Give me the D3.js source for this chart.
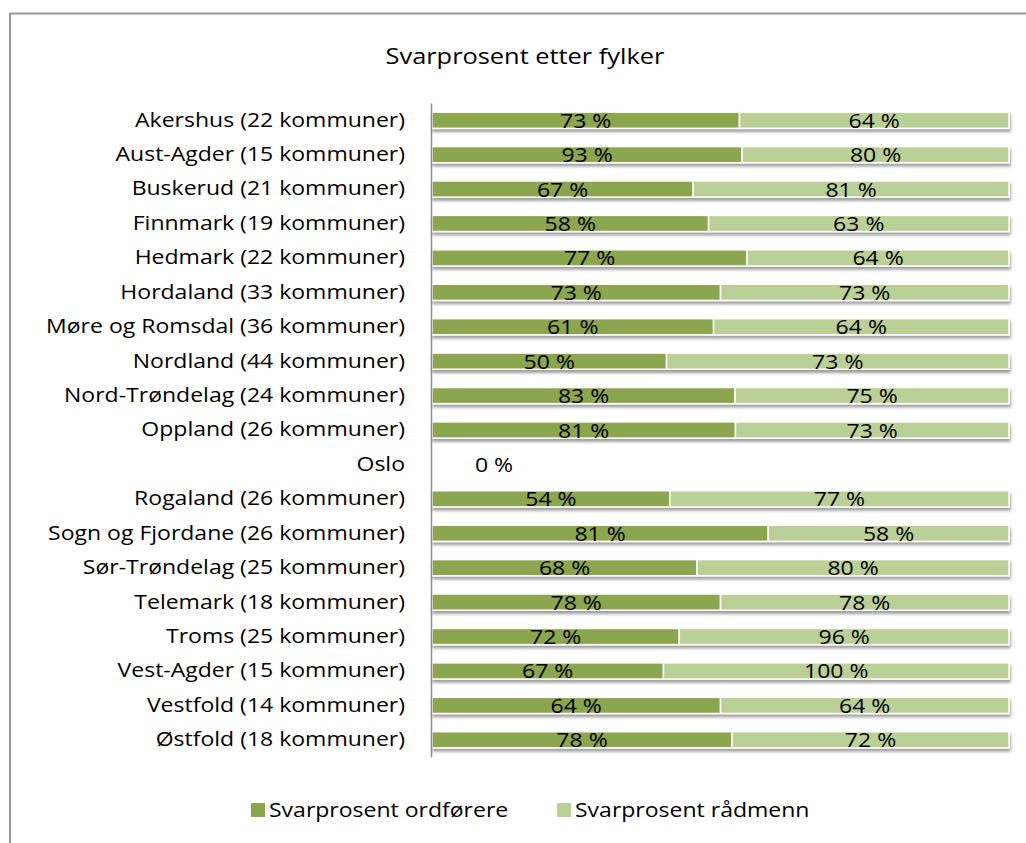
<!DOCTYPE html>
<html><head><meta charset="utf-8">
<script src="https://cdn.jsdelivr.net/npm/d3@7"></script>
<style>body{margin:0;background:#fff;} svg{display:block;}</style>
</head><body>
<script>
const categories = ["Akershus (22 kommuner)","Aust-Agder (15 kommuner)","Buskerud (21 kommuner)","Finnmark (19 kommuner)","Hedmark (22 kommuner)","Hordaland (33 kommuner)","Møre og Romsdal (36 kommuner)","Nordland (44 kommuner)","Nord-Trøndelag (24 kommuner)","Oppland (26 kommuner)","Oslo","Rogaland (26 kommuner)","Sogn og Fjordane (26 kommuner)","Sør-Trøndelag (25 kommuner)","Telemark (18 kommuner)","Troms (25 kommuner)","Vest-Agder (15 kommuner)","Vestfold (14 kommuner)","Østfold (18 kommuner)"];
const ordforere = [73,93,67,58,77,73,61,50,83,81,0,54,81,68,78,72,67,64,78];
const radmenn = [64,80,81,63,64,73,64,73,75,73,0,77,58,80,78,96,100,64,72];
const seriesNames = ["Svarprosent ordførere","Svarprosent rådmenn"];
const colors = ["#8ca64f","#bbd097"];

const W=1026,H=843;
const svg=d3.select("body").append("svg").attr("width",W).attr("height",H);
const font="'Open Sans', sans-serif";
const FS=20, STRETCH=1.15;
function stretch(sel,k){sel.each(function(){const l=this.getComputedTextLength();if(l>0){d3.select(this).attr("textLength",l*k).attr("lengthAdjust","spacingAndGlyphs");}});}

const defs=svg.append("defs");
const f=defs.append("filter").attr("id","sh").attr("x","-5%").attr("y","-50%").attr("width","110%").attr("height","250%");
f.append("feDropShadow").attr("dx",1).attr("dy",3).attr("stdDeviation",1.8).attr("flood-color","#000").attr("flood-opacity",0.38);

// frame
svg.append("rect").attr("x",10).attr("y",13.5).attr("width",1040).attr("height",900).attr("fill","none").attr("stroke","#999").attr("stroke-width",2);

const title=svg.append("text").attr("x",525).attr("y",64).attr("text-anchor","middle").attr("font-family",font).attr("font-size",21.5).attr("fill","#000").text("Svarprosent etter fylker");
stretch(title,1.18);

const x=d3.scaleLinear().domain([0,1]).range([432,1009]);
const y=d3.scaleBand().domain(categories).range([103,757]).paddingInner(0.53).paddingOuter(0.265);

const data=categories.map((c,i)=>{const t=ordforere[i]+radmenn[i];return {c,a:ordforere[i],b:radmenn[i],pa:t?ordforere[i]/t:0,pb:t?radmenn[i]/t:0};});

const g=svg.append("g");
data.forEach(d=>{
  if(d.a+d.b===0) return;
  const grp=g.append("g").attr("filter","url(#sh)");
  grp.append("rect").attr("x",x(0)).attr("y",y(d.c)).attr("width",x(d.pa)-x(0)).attr("height",y.bandwidth()).attr("fill",colors[0]).attr("stroke","#fff").attr("stroke-width",1.5);
  grp.append("rect").attr("x",x(d.pa)).attr("y",y(d.c)).attr("width",x(1)-x(d.pa)).attr("height",y.bandwidth()).attr("fill",colors[1]).attr("stroke","#fff").attr("stroke-width",1.5);
});
// labels
const lab=svg.append("g").attr("font-family",font).attr("font-size",FS).attr("text-anchor","middle");
data.forEach(d=>{
  const cy=y(d.c)+y.bandwidth()/2+7.5;
  if(d.a+d.b===0){
    lab.append("text").attr("x",494).attr("y",cy).text(d.a+" %");
    return;
  }
  lab.append("text").attr("x",(x(0)+x(d.pa))/2).attr("y",cy).text(d.a+" %");
  lab.append("text").attr("x",(x(d.pa)+x(1))/2).attr("y",cy).text(d.b+" %");
});
stretch(lab.selectAll("text"),STRETCH);

// axis
const ax=svg.append("g").attr("transform","translate(431,0)").call(d3.axisLeft(y).tickSize(0).tickPadding(26));
ax.select(".domain").attr("stroke","#8c8c8c").attr("stroke-width",1.5);
ax.selectAll("text").attr("font-family",font).attr("font-size",FS).attr("fill","#000");
stretch(ax.selectAll("text"),STRETCH);

// legend
const leg=[{x:251,tx:269},{x:557,tx:575}];
seriesNames.forEach((n,i)=>{
  svg.append("rect").attr("x",leg[i].x).attr("y",803).attr("width",14).attr("height",14).attr("fill",colors[i]);
  const t=svg.append("text").attr("x",leg[i].tx).attr("y",817).attr("font-family",font).attr("font-size",FS).text(n);
  stretch(t,STRETCH);
});
</script>
</body></html>
